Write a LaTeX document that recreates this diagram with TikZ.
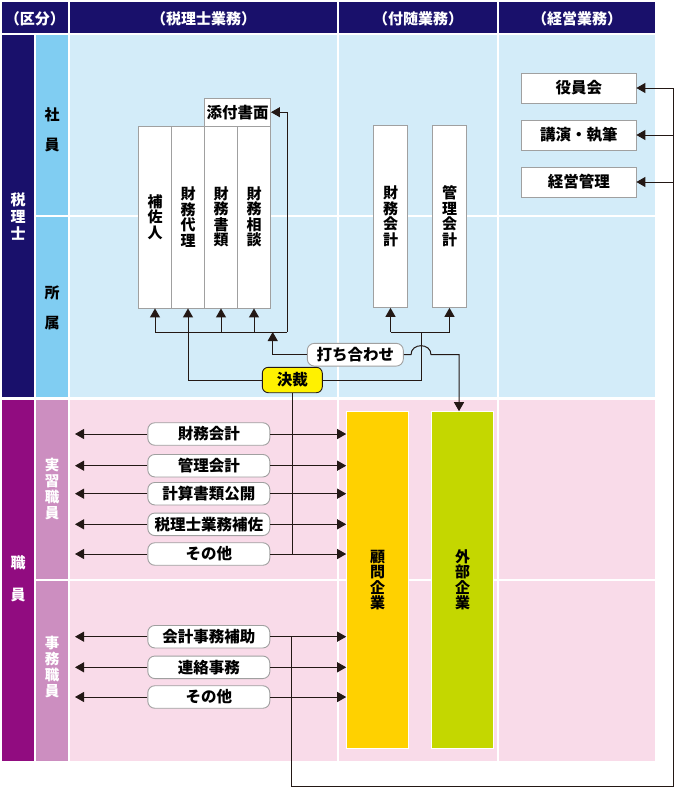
\documentclass[tikz,border=0pt]{standalone}
\usepackage{fontspec}
\setmainfont{Noto Sans CJK JP}
\usetikzlibrary{arrows.meta}
\definecolor{navy}{HTML}{19106B}
\definecolor{bcol}{HTML}{80CDF2}
\definecolor{barea}{HTML}{D3ECF9}
\definecolor{pcol}{HTML}{910C80}
\definecolor{lcol}{HTML}{CC8EC0}
\definecolor{parea}{HTML}{F9DBE9}
\definecolor{komonc}{HTML}{FFD100}
\definecolor{gaibuc}{HTML}{C4D700}
\definecolor{kessaic}{HTML}{FFF100}
\definecolor{ln}{HTML}{231815}
\definecolor{gbord}{HTML}{A0A0A0}
\begin{document}
\begin{tikzpicture}[x=1pt,y=-1pt,
  txt/.style={font=\fontsize{15}{17}\selectfont\bfseries, inner sep=0pt, align=center},
  hd/.style={txt, font=\fontsize{15}{17}\selectfont\bfseries, text=white},
  side/.style={txt, text=white},
  vbox/.style={draw=gbord, fill=white, line width=0.9pt, inner sep=0pt, align=center,
    font=\fontsize{15}{15.5}\selectfont\bfseries, minimum width=33pt, minimum height=182pt},
  wbox/.style={draw=gbord, fill=white, line width=0.9pt, inner sep=0pt,
    font=\fontsize{15.5}{17}\selectfont\bfseries},
  pill/.style={wbox, rounded corners=7pt, minimum width=122pt, minimum height=22.5pt},
  corp/.style={draw=white, line width=1pt, inner sep=0pt, align=center,
    font=\fontsize{15}{15.5}\selectfont\bfseries, minimum width=61.6pt, minimum height=336.6pt},
  conn/.style={draw=ln, line width=1pt},
  arr/.style={conn, -{Triangle[length=9pt,width=10pt]}},
]
\useasboundingbox (0,0) rectangle (680,792);
\fill[white] (0,0) rectangle (680,792);
% header
\fill[navy] (2,2) rectangle (68,33);
\fill[navy] (70,2) rectangle (337,33);
\fill[navy] (339,2) rectangle (497,33);
\fill[navy] (499,2) rectangle (655,33);
% left columns
\fill[navy] (2,35) rectangle (34,397);
\fill[bcol] (36,35) rectangle (68,215);
\fill[bcol] (36,217) rectangle (68,397);
\fill[pcol] (2,400) rectangle (34,761);
\fill[lcol] (36,400) rectangle (68,579);
\fill[lcol] (36,581) rectangle (68,761);
% areas
\foreach \a/\b in {70/337,339/497,499/655}{
  \fill[barea] (\a,35) rectangle (\b,215);
  \fill[barea] (\a,217) rectangle (\b,397);
  \fill[parea] (\a,400) rectangle (\b,579);
  \fill[parea] (\a,581) rectangle (\b,761);
}
% header texts
\node[hd] (h0) at (35,18.5) {（区分）};
\node[hd] (h1) at (203.5,18.5) {（税理士業務）};
\node[hd] (h2) at (418,18.5) {（付随業務）};
\node[hd] (h3) at (577,18.5) {（経営業務）};
% side labels
\node[side] (zei) at (18,216) {税\\理\\士};
\node[txt, font=\fontsize{15}{30}\selectfont\bfseries] (sha) at (52,130) {社\\員};
\node[txt, font=\fontsize{15}{30}\selectfont\bfseries] (sho) at (52,308) {所\\属};
\node[side, font=\fontsize{15}{32}\selectfont\bfseries] (shoku) at (18,579) {職\\員};
\node[side, font=\fontsize{14.5}{16}\selectfont\bfseries] (jisshu) at (52,489) {実\\習\\職\\員};
\node[side, font=\fontsize{14.5}{16}\selectfont\bfseries] (jimu) at (52,667) {事\\務\\職\\員};
% tax boxes
\node[vbox] (b1) at (155,217) {補\\佐\\人};
\node[vbox] (b2) at (188,217) {財\\務\\代\\理};
\node[vbox] (b3) at (221,217) {財\\務\\書\\類};
\node[vbox] (b4) at (254,217) {財\\務\\相\\談};
\node[wbox, minimum width=66pt, minimum height=27.7pt] (tenpu) at (237.5,112.2) {添付書面};
% incidental boxes
\node[vbox, minimum width=34.4pt, minimum height=182.3pt] (f1) at (390.5,216.2) {財\\務\\会\\計};
\node[vbox, minimum width=34.4pt, minimum height=182.3pt] (f2) at (449.5,216.2) {管\\理\\会\\計};
% management boxes
\node[wbox, minimum width=114.3pt, minimum height=30pt] (k1) at (578.8,88) {役員会};
\node[wbox, minimum width=114.3pt, minimum height=30pt] (k2) at (578.8,135) {講演・執筆};
\node[wbox, minimum width=114.3pt, minimum height=30pt] (k3) at (578.8,182) {経営管理};
% companies
\node[corp, fill=komonc] (komon) at (377.5,580) {顧\\問\\企\\業};
\node[corp, fill=gaibuc] (gaibu) at (462.5,580) {外\\部\\企\\業};
% uchiawase and kessai
\node[pill, minimum width=96pt, minimum height=22.7pt] (uchi) at (355.3,354.7) {打ち合わせ};
\node[wbox, draw=ln, fill=kessaic, rounded corners=6pt, minimum width=60pt, minimum height=25.4pt] (kessai) at (292.3,380) {決裁};
% pills
\node[pill] (p1) at (208.8,434) {財務会計};
\node[pill] (p2) at (208.8,465.7) {管理会計};
\node[pill] (p3) at (208.8,493.7) {計算書類公開};
\node[pill] (p4) at (208.8,524.3) {税理士業務補佐};
\node[pill] (p5) at (208.8,554) {その他};
\node[pill] (q1) at (208.8,636.7) {会計事務補助};
\node[pill] (q2) at (208.8,667.3) {連絡事務};
\node[pill] (q3) at (208.8,697) {その他};
% tax tree
\coordinate (busL) at (155,332);
\coordinate (busR) at (287,332);
\draw[conn] (b1.south |- busL) -- (busR);
\draw[arr] (busR) |- (tenpu.east);
\draw[arr] (b1.south |- busL) -- (b1.south);
\draw[arr] (b3.south |- busL) -- (b3.south);
\draw[arr] (b4.south |- busL) -- (b4.south);
% uchiawase to tree
\coordinate (ub) at (272.7,332);
\draw[arr] (uchi.west) -| (ub);
% kessai west to b2
\draw[arr] (kessai.west) -| (b2.south);
% kessai east to incidental
\coordinate (fbus) at (421,332);
\draw[conn] (kessai.east) -| (fbus);
\draw[conn] (f1.south |- fbus) -- (f2.south |- fbus);
\draw[arr] (f1.south |- fbus) -- (f1.south);
\draw[arr] (f2.south |- fbus) -- (f2.south);
% kessai down
\draw[conn] (kessai.south) -- (kessai.south |- p5.east);
% uchiawase east to gaibu with hop
\coordinate (hop1) at (411,354.7);
\coordinate (hop2) at (431,354.7);
\coordinate (g1) at (459,354.7);
\draw[arr] (uchi.east) -- (hop1) .. controls (411,342.7) and (431,342.7) .. (hop2) -- (g1) -- (gaibu.north -| g1);
% pill arrows
\coordinate (lx) at (75,0);
\foreach \n in {p1,p2,p3,p4,p5,q1,q2,q3}{
  \draw[arr] (\n.west) -- (\n.west -| lx);
  \draw[arr] (\n.east) -- (\n.east -| komon.west);
}
% q1 branch to management
\coordinate (r1) at (291.5,786);
\coordinate (r2) at (673.5,786);
\draw[conn] (q1.east -| r1) -- (r1) -- (r2) -- (r2 |- k1.east);
\draw[arr] (r2 |- k1.east) -- (k1.east);
\draw[arr] (r2 |- k2.east) -- (k2.east);
\draw[arr] (r2 |- k3.east) -- (k3.east);
\end{tikzpicture}
\end{document}
